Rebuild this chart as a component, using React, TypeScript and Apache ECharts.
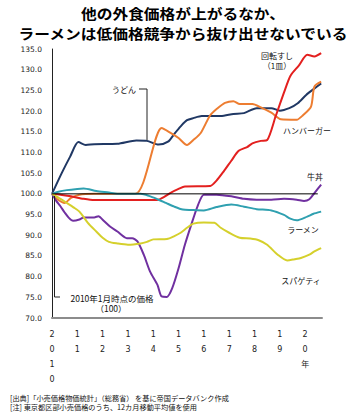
import React, { useEffect, useRef } from "react";
import * as echarts from "echarts";

// x = months since 2010 Jan, y = index (2010 Jan = 100)
const udon: [number, number][] = [
  [0, 100], [4.6, 105], [8.6, 109], [12.5, 112.5], [16, 111.8], [20, 112], [31, 112.1], [40, 112.9],
  [45, 112.8], [50.5, 111.9], [55, 112.6], [58, 114.5], [61, 116.3], [64, 117.8], [67, 118.3],
  [71, 118.8], [80, 118.8], [86, 119.3], [91, 119.5], [97, 120.7], [104, 120.7], [108, 120.1],
  [112.5, 120.7], [116.5, 121.9], [120.5, 123.9], [124, 125.3], [127.6, 126.7],
];
const hamburger: [number, number][] = [
  [0, 100], [3, 98.5], [6, 97.8], [9, 99], [13, 99.8], [20, 100], [39.5, 100], [52, 115.9],
  [56, 114.8], [60, 113.5], [64, 111.8], [67, 113], [70.5, 114.7], [75, 119], [78.5, 120.7],
  [82, 122], [86, 122.4], [89, 121.7], [95, 121.7], [99, 120.9], [104, 119.6], [108.5, 118],
  [116, 117.9], [119, 119], [122.8, 121.1], [124.4, 125.9], [127.6, 127.1],
];
const sushi: [number, number][] = [
  [0, 100], [4, 99.8], [9, 99.4], [15, 98.8], [20, 98.5], [50, 98.5], [53, 99.2], [56, 100.2],
  [60, 101.2], [63, 101.8], [75, 101.9], [78, 103.2], [81.5, 105.5], [85, 108], [88.5, 110.4],
  [92.5, 111.3], [95, 112.2], [99, 112.8], [102, 113], [106, 118.7], [110, 124.5], [113, 128.5],
  [117, 131], [121, 133.6], [124.4, 133.2], [127.6, 134],
];
const gyudon: [number, number][] = [
  [0, 100], [2, 98.3], [4, 97], [6, 95.5], [8, 94.2], [10, 93.5], [13, 93.8], [15, 94.3], [20, 94.3],
  [22, 94.6], [24.5, 93.5], [27.5, 92.1], [31, 90.9], [35.5, 89.3], [38, 89.3], [40.5, 88.5],
  [43.5, 85.3], [46.5, 81.2], [50, 78], [52, 75.2], [54.5, 75.1], [57, 77.2], [60, 82], [63, 87.7],
  [66, 92.5], [69, 97], [72, 99.8], [78, 99.8], [85, 99.4], [91, 98.8], [97, 98.6], [104, 98.6],
  [110, 98.8], [116, 98.6], [119.5, 98.3], [122, 98.7], [124.4, 100.2], [127.6, 102.2],
];
const ramen: [number, number][] = [
  [0, 100], [3, 100.5], [7, 100.9], [12, 101.2], [15, 101.3], [21, 100.7], [27, 100.3], [31, 100],
  [42, 100], [46, 99.5], [50, 98.7], [54, 97.8], [58, 96.9], [62, 96.2], [66, 96.1], [72, 96],
  [78, 96.8], [85, 97.4], [91, 96.9], [97, 96.3], [104, 96], [110, 94.9], [113, 94], [116, 93.6],
  [121, 94.5], [124, 95.2], [127.6, 95.7],
];
const spaghetti: [number, number][] = [
  [0, 100], [4, 98.8], [7, 97.8], [10, 96.8], [13, 95.7], [17, 93], [21, 90.9], [24, 89.4],
  [27, 88.4], [31, 88], [36, 87.7], [42, 88], [45, 88.4], [48, 89], [54.5, 89.1], [58, 89.8],
  [61, 90.6], [64, 91.8], [67, 92.8], [72, 93.1], [77, 93], [80, 91.8], [84, 90.6], [89, 89.4],
  [94, 89.2], [98, 88.8], [102, 87.7], [107, 85.3], [111.5, 83.9], [115, 84.2], [118, 84.5],
  [122, 85.3], [124.4, 86.1], [127.6, 86.9],
];
const baseLine: [number, number][] = [[0, 100], [126, 100]];

const xTickLabels = ["2010", "11", "12", "13", "14", "15", "16", "17", "18", "19", "20年"];
const seriesNames = ["うどん", "ハンバーガー", "回転すし", "牛丼", "ラーメン", "スパゲティ"];
const seriesColors = ["#203864", "#ed7d31", "#e3201f", "#7030a0", "#2fa0b0", "#d5d02c"];
const titleLines = ["他の外食価格が上がるなか、", "ラーメンは低価格競争から抜け出せないでいる"];

const FONT = "'Noto Sans CJK JP', 'Noto Sans', sans-serif";
const NUMFONT = "'DejaVu Sans', 'Noto Sans CJK JP', sans-serif";

export default function App() {
  const ref = useRef<HTMLDivElement>(null);
  useEffect(() => {
    document.body.style.margin = "0";
    const chart = echarts.init(ref.current!, null, { renderer: "svg" });
    const datasets = [udon, hamburger, sushi, gyudon, ramen, spaghetti];
    const lineSeries: any[] = datasets.map((d, i) => ({
      type: "line",
      name: seriesNames[i],
      data: d,
      showSymbol: false,
      smooth: 0.25,
      lineStyle: { color: seriesColors[i], width: 2 },
      itemStyle: { color: seriesColors[i] },
      z: 2 + i,
    }));
    lineSeries.push({
      type: "line",
      name: "base",
      data: baseLine,
      showSymbol: false,
      lineStyle: { color: "#000", width: 1 },
      z: 10,
    });
    const txt = (text: string, x: number, y: number, size = 8, align = "center", extra: any = {}) => ({
      type: "text",
      x,
      y,
      z: 100,
      style: {
        text,
        fontSize: size,
        lineHeight: size,
        fontFamily: FONT,
        fill: "#111",
        align,
        verticalAlign: "middle",
        ...extra,
      },
    });
    const titleText = (text: string, y: number) => ({
      type: "text",
      x: 183,
      y,
      z: 100,
      scaleX: 1.14,
      style: {
        text,
        fontSize: 13.8,
        lineHeight: 14,
        fontWeight: "bold",
        fontFamily: FONT,
        fill: "#000",
        align: "center",
        verticalAlign: "middle",
      },
    });
    chart.setOption({
      animation: false,
      grid: { left: 52, right: 40, top: 49, bottom: 98 },
      xAxis: {
        type: "value",
        min: 0,
        max: 128,
        interval: 12,
        splitLine: { show: false },
        axisTick: { show: false },
        axisLine: { show: true, onZero: false, lineStyle: { color: "#8c8c8c", width: 2 } },
        axisLabel: {
          showMaxLabel: false,
          margin: 9,
          fontSize: 8,
          fontFamily: NUMFONT,
          color: "#222",
          lineHeight: 15,
          verticalAlign: "top",
          formatter: (v: number) => {
            if (v % 12 !== 0) return "";
            const s = xTickLabels[v / 12];
            return s ? s.split("").join("\n") : "";
          },
        },
      },
      yAxis: {
        type: "value",
        min: 70,
        max: 135,
        interval: 5,
        splitLine: { show: false },
        axisTick: { show: false },
        axisLine: { show: true, lineStyle: { color: "#222", width: 1 } },
        axisLabel: {
          margin: 10,
          fontSize: 7.5,
          fontFamily: NUMFONT,
          color: "#222",
          formatter: (v: number) => v.toFixed(1),
        },
      },
      series: lineSeries,
      graphic: [
        titleText(titleLines[0], 13),
        titleText(titleLines[1], 32.5),
        txt(seriesNames[0], 124, 89),
        {
          type: "polyline",
          z: 100,
          shape: { points: [[139, 89], [147, 89], [147, 140]] },
          style: { stroke: "#222", lineWidth: 1, fill: "none" },
        },
        txt("回転すし", 277, 55),
        txt("（1皿）", 277, 65),
        txt(seriesNames[1], 307, 130),
        txt(seriesNames[3], 315, 176),
        txt(seriesNames[4], 303, 229),
        txt(seriesNames[5], 301, 280),
        {
          type: "polyline",
          z: 100,
          shape: { points: [[54.5, 196], [54.5, 297], [60, 297]] },
          style: { stroke: "#222", lineWidth: 1, fill: "none" },
        },
        txt("2010年1月時点の価格", 112, 297.5, 8.5),
        txt("（100）", 111, 308, 8.5),
        txt("[出典]「小売価格物価統計」（総務省） を基に帝国データバンク作成", 10, 398, 7.2, "left"),
        txt("[注] 東京都区部小売価格のうち、12カ月移動平均値を使用", 10, 407, 7.2, "left"),
      ],
    });
    return () => chart.dispose();
  }, []);
  return <div ref={ref} style={{ width: 362, height: 416 }} />;
}
